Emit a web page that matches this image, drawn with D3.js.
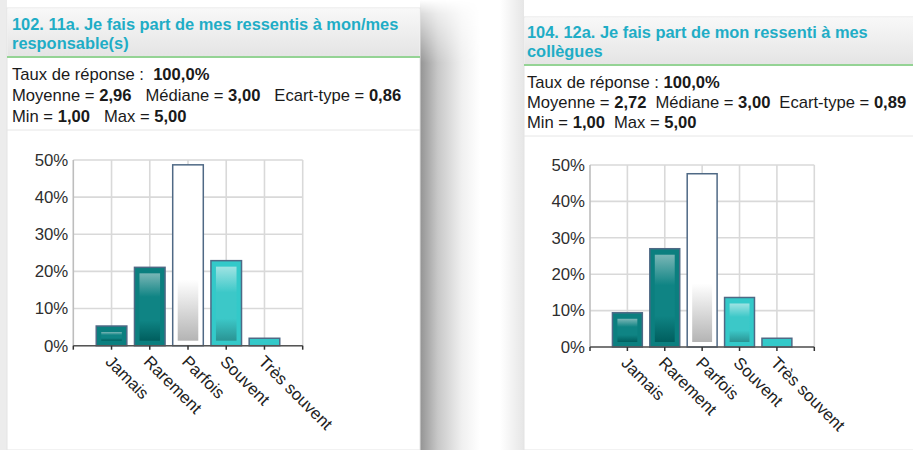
<!DOCTYPE html>
<html>
<head>
<meta charset="utf-8">
<script src="https://cdn.jsdelivr.net/npm/d3@7"></script>
<style>
  html, body { margin: 0; padding: 0; background: #ffffff; }
  svg { display: block; font-family: "Liberation Sans", Arial, sans-serif; }
</style>
</head>
<body>
<svg id="chart" width="913" height="450"></svg>
<script>
// Answer scale shared by both questions
const categories = ["Jamais", "Rarement", "Parfois", "Souvent", "Très souvent"];

// Share of answers (%) per category
const valuesQ102 = [5.3, 21.1, 48.7, 22.9, 2.0];
const valuesQ104 = [9.4, 27.0, 47.6, 13.6, 2.4];

// Y-axis ticks (%)
const yTicks = [0, 10, 20, 30, 40, 50];

// Question titles (two lines each)
const titleQ102 = ["102. 11a. Je fais part de mes ressentis à mon/mes", "responsable(s)"];
const titleQ104 = ["104. 12a. Je fais part de mon ressenti à mes", "collègues"];

// Summary statistics
const tauxQ102 = "100,0%", moyenneQ102 = "2,96", medianeQ102 = "3,00", ecartQ102 = "0,86", minQ102 = "1,00", maxQ102 = "5,00";
const tauxQ104 = "100,0%", moyenneQ104 = "2,72", medianeQ104 = "3,00", ecartQ104 = "0,89", minQ104 = "1,00", maxQ104 = "5,00";

// Bar palette per category: outer fill, inner highlight top, mid, bottom
const palette = [
  { fill: "#0b7f7f", top: "#7ab6b6", mid: "#0f8484", bot: "#005e5e" },
  { fill: "#0b7f7f", top: "#7ab6b6", mid: "#0f8484", bot: "#005e5e" },
  { fill: "#ffffff", top: "#ffffff", mid: "#ffffff", bot: "#b4b4b4" },
  { fill: "#33c9c9", top: "#9fe3e3", mid: "#3cc8c8", bot: "#2a9494" },
  { fill: "#33c9c9", top: "#9fe3e3", mid: "#3cc8c8", bot: "#2a9494" }
];

const svg = d3.select("#chart");
const defs = svg.append("defs");

// Gradients for bar highlights
palette.forEach((p, i) => {
  const grad = defs.append("linearGradient")
    .attr("id", "barGrad" + i).attr("x1", 0).attr("y1", 0).attr("x2", 0).attr("y2", 1);
  if (i === 2) {
    grad.append("stop").attr("offset", 0).attr("stop-color", p.top);
    grad.append("stop").attr("offset", 0.64).attr("stop-color", p.mid);
    grad.append("stop").attr("offset", 1).attr("stop-color", p.bot);
  } else {
    grad.append("stop").attr("offset", 0).attr("stop-color", p.top);
    grad.append("stop").attr("offset", 0.35).attr("stop-color", p.mid);
    grad.append("stop").attr("offset", 0.7).attr("stop-color", p.mid);
    grad.append("stop").attr("offset", 1).attr("stop-color", p.bot);
  }
});

// Header gradient
const hg = defs.append("linearGradient").attr("id", "headGrad")
  .attr("x1", 0).attr("y1", 0).attr("x2", 0).attr("y2", 1);
hg.append("stop").attr("offset", 0).attr("stop-color", "#f8f8f8");
hg.append("stop").attr("offset", 1).attr("stop-color", "#e4e4e4");

// Drop shadow to the right of the first panel
const sg = defs.append("linearGradient").attr("id", "shadowGrad")
  .attr("x1", 0).attr("y1", 0).attr("x2", 1).attr("y2", 0);
sg.append("stop").attr("offset", 0).attr("stop-color", "#939393");
sg.append("stop").attr("offset", 0.3).attr("stop-color", "#c8c8c8");
sg.append("stop").attr("offset", 0.7).attr("stop-color", "#f0f0f0");
sg.append("stop").attr("offset", 1).attr("stop-color", "#ffffff");
const sm = defs.append("linearGradient").attr("id", "shadowFade")
  .attr("x1", 0).attr("y1", 0).attr("x2", 0).attr("y2", 1);
sm.append("stop").attr("offset", 0).attr("stop-color", "#000");
sm.append("stop").attr("offset", 0.03).attr("stop-color", "#555");
sm.append("stop").attr("offset", 0.14).attr("stop-color", "#fff");
sm.append("stop").attr("offset", 1).attr("stop-color", "#fff");
defs.append("mask").attr("id", "shadowMask")
  .attr("maskUnits", "userSpaceOnUse").attr("x", 410).attr("y", 0).attr("width", 80).attr("height", 450)
  .append("rect").attr("x", 410).attr("y", 0).attr("width", 80).attr("height", 450).attr("fill", "url(#shadowFade)");

// Faint shading on the outer left edges
const eg = defs.append("linearGradient").attr("id", "edgeGrad")
  .attr("x1", 0).attr("y1", 0).attr("x2", 1).attr("y2", 0);
eg.append("stop").attr("offset", 0).attr("stop-color", "#ffffff");
eg.append("stop").attr("offset", 1).attr("stop-color", "#e6e6e6");

svg.append("rect").attr("x", 0).attr("y", 0).attr("width", 7).attr("height", 450).attr("fill", "#ececec");
svg.append("rect").attr("x", 500).attr("y", 0).attr("width", 24).attr("height", 450).attr("fill", "url(#edgeGrad)");
svg.append("rect").attr("x", 420).attr("y", 0).attr("width", 60).attr("height", 450)
  .attr("fill", "url(#shadowGrad)").attr("mask", "url(#shadowMask)");

function drawPanel(cfg) {
  const g = svg.append("g");

  // Panel body and header
  g.append("rect").attr("x", cfg.px0).attr("y", cfg.py0).attr("width", cfg.px1 - cfg.px0).attr("height", 450 - cfg.py0)
    .attr("fill", "#ffffff").attr("stroke", "#e4e4e4").attr("stroke-width", 1);
  g.append("rect").attr("x", cfg.px0 + 0.5).attr("y", cfg.py0 + 0.5).attr("width", cfg.px1 - cfg.px0 - 1).attr("height", cfg.headBottom - cfg.py0 - 0.5)
    .attr("fill", "url(#headGrad)");
  g.append("line").attr("x1", cfg.px0).attr("x2", cfg.px1).attr("y1", cfg.headBottom).attr("y2", cfg.headBottom)
    .attr("stroke", "#94d394").attr("stroke-width", 2);
  g.append("line").attr("x1", cfg.px0).attr("x2", cfg.px1).attr("y1", cfg.sepY).attr("y2", cfg.sepY)
    .attr("stroke", "#e6e6e6").attr("stroke-width", 1);

  // Title
  cfg.title.forEach((t, i) => {
    g.append("text").attr("x", cfg.tx).attr("y", cfg.titleY + i * 19)
      .attr("font-size", 16.4).attr("font-weight", "bold").attr("fill", "#1fadc6").text(t);
  });

  // Statistics
  const stat = (y, parts) => {
    const t = g.append("text").attr("x", cfg.tx).attr("y", y).attr("font-size", 16.6).attr("fill", "#1a1a1a")
      .style("white-space", "pre");
    parts.forEach(p => {
      t.append("tspan").attr("font-weight", p.b ? "bold" : "normal").attr("dx", p.dx || 0).text(p.s);
    });
  };
  stat(cfg.statY[0], [{ s: "Taux de réponse :" + cfg.tauxGap }, { s: cfg.taux, b: true }]);
  stat(cfg.statY[1], [
    { s: "Moyenne = " }, { s: cfg.moy, b: true },
    { s: "Médiane = ", dx: cfg.gap }, { s: cfg.med, b: true },
    { s: "Ecart-type = ", dx: cfg.gap }, { s: cfg.ect, b: true }
  ]);
  stat(cfg.statY[2], [
    { s: "Min = " }, { s: cfg.min, b: true },
    { s: "Max = ", dx: cfg.gap }, { s: cfg.max, b: true }
  ]);

  // Chart
  const x = d3.scaleLinear().domain([0, categories.length + 1]).range([cfg.cx0, cfg.cx1]);
  const y = d3.scaleLinear().domain([0, 50]).range([cfg.cy1, cfg.cy0]);
  const step = x(1) - x(0);
  const bw = step * 0.8;

  const plot = g.append("g");
  // Grid
  plot.selectAll(".hgrid").data(yTicks).join("line")
    .attr("x1", cfg.cx0).attr("x2", cfg.cx1).attr("y1", d => y(d)).attr("y2", d => y(d))
    .attr("stroke", "#d9d9d9").attr("stroke-width", 1.6);
  plot.selectAll(".vgrid").data(d3.range(0, categories.length + 2)).join("line")
    .attr("x1", d => x(d)).attr("x2", d => x(d)).attr("y1", cfg.cy0).attr("y2", cfg.cy1)
    .attr("stroke", d => d === 0 ? "#bdbdbd" : "#d9d9d9").attr("stroke-width", 1.6);

  // Y axis labels
  const yAxis = d3.axisLeft(y).tickValues(yTicks).tickSize(0).tickPadding(5).tickFormat(d => d + "%");
  const ya = plot.append("g").attr("transform", `translate(${cfg.cx0},0)`).call(yAxis);
  ya.select(".domain").remove();
  ya.selectAll("text").attr("font-size", 16.8).attr("fill", "#2e2e2e").attr("font-family", "Liberation Sans, Arial, sans-serif");

  // Bars
  const values = cfg.values;
  const bars = plot.selectAll(".bar").data(values).join("g");
  bars.append("rect")
    .attr("x", (d, i) => x(i + 1) - bw / 2).attr("width", bw)
    .attr("y", d => y(d)).attr("height", d => y(0) - y(d))
    .attr("fill", (d, i) => palette[i].fill)
    .attr("stroke", "#4f6985").attr("stroke-width", 1.5);
  bars.filter(d => y(0) - y(d) > 14).append("rect")
    .attr("x", (d, i) => x(i + 1) - bw / 2 + 5).attr("width", bw - 10)
    .attr("y", d => y(d) + 6).attr("height", d => y(0) - y(d) - 11)
    .attr("fill", (d, i) => `url(#barGrad${i})`);

  // X axis with ticks and rotated labels
  const xa = plot.append("g").attr("transform", `translate(0,${cfg.cy1})`);
  xa.append("line").attr("x1", cfg.cx0).attr("x2", cfg.cx1).attr("stroke", "#555").attr("stroke-width", 1.5);
  xa.selectAll(".tick").data(d3.range(0, categories.length + 2)).join("line")
    .attr("x1", d => x(d)).attr("x2", d => x(d)).attr("y1", 0).attr("y2", 4)
    .attr("stroke", "#333").attr("stroke-width", 1.5);
  xa.selectAll(".lab").data(categories).join("text")
    .attr("transform", (d, i) => `translate(${x(i + 1)},0) rotate(45)`)
    .attr("x", 7).attr("y", 17)
    .attr("font-size", 16.8).attr("fill", "#222").text(d => d);
}

drawPanel({
  px0: 7, py0: 8, px1: 420, headBottom: 57, sepY: 130,
  tx: 12, titleY: 30, title: titleQ102,
  statY: [80, 101, 122], tauxGap: "  ", gap: 14,
  taux: tauxQ102, moy: moyenneQ102, med: medianeQ102, ect: ecartQ102, min: minQ102, max: maxQ102,
  cx0: 73.3, cx1: 302.7, cy0: 160, cy1: 345.7, values: valuesQ102
});

drawPanel({
  px0: 524, py0: 17, px1: 930, headBottom: 65, sepY: 136,
  tx: 527, titleY: 38, title: titleQ104,
  statY: [88, 108, 128], tauxGap: " ", gap: 9,
  taux: tauxQ104, moy: moyenneQ104, med: medianeQ104, ect: ecartQ104, min: minQ104, max: maxQ104,
  cx0: 590, cx1: 814.3, cy0: 165, cy1: 347, values: valuesQ104
});
</script>
</body>
</html>
